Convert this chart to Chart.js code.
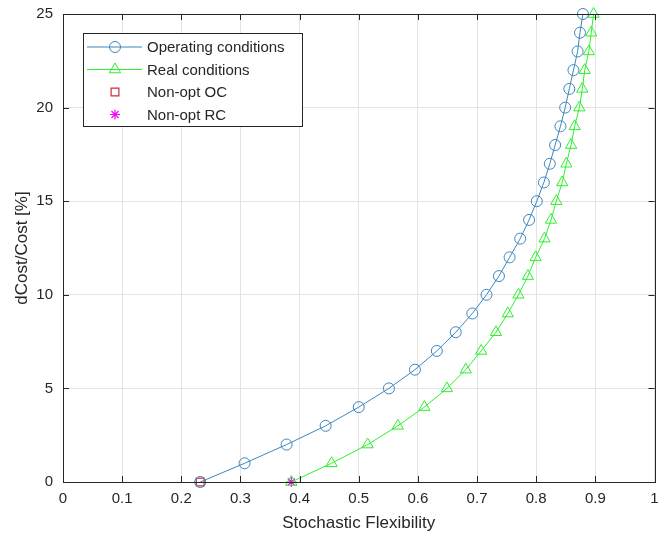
<!DOCTYPE html>
<html>
<head>
<meta charset="utf-8">
<script src="https://cdn.jsdelivr.net/npm/chart.js@4"></script>
<style>
  html, body { margin: 0; padding: 0; background: #fff; }
  #wrap { width: 662px; height: 543px; }
</style>
</head>
<body>
<div id="wrap"><canvas id="chart"></canvas></div>
<script>
// values
const costLevels = [0, 1, 2, 3, 4, 5, 6, 7, 8, 9, 10, 11, 12, 13, 14, 15, 16, 17, 18, 19, 20, 21, 22, 23, 24, 25];
const flexOperating = [0.232, 0.307, 0.378, 0.444, 0.500, 0.551, 0.595, 0.632, 0.664, 0.692, 0.716, 0.737, 0.755,
  0.773, 0.788, 0.801, 0.813, 0.823, 0.832, 0.841, 0.849, 0.856, 0.863, 0.870, 0.874, 0.879];
const flexReal = [0.386, 0.454, 0.515, 0.566, 0.611, 0.649, 0.681, 0.707, 0.732, 0.752, 0.770, 0.786, 0.799,
  0.814, 0.825, 0.834, 0.844, 0.851, 0.859, 0.865, 0.873, 0.878, 0.882, 0.889, 0.893, 0.897];
const nonOptOC = [0.232, 0];
const nonOptRC = [0.386, 0];
const xTicks = [0, 0.1, 0.2, 0.3, 0.4, 0.5, 0.6, 0.7, 0.8, 0.9, 1];
const yTicks = [0, 5, 10, 15, 20, 25];

const FONT = 'Liberation Sans, Arial, Helvetica, sans-serif';
const blue = '#3d86bd';
const green = '#2cf02c';

function toPoints(xs, ys) {
  return xs.map((x, i) => ({ x: x, y: ys[i] }));
}

// MATLAB-like box, inward ticks and legend inside the axes
const matlabAxes = {
  id: 'matlabAxes',
  afterDatasetsDraw(chart) {
    const ctx = chart.ctx;
    const a = chart.chartArea;
    const sx = chart.scales.x, sy = chart.scales.y;
    ctx.save();
    ctx.strokeStyle = '#262626';
    ctx.lineWidth = 1;
    ctx.beginPath();
    xTicks.forEach(v => {
      const px = Math.round(sx.getPixelForValue(v)) + 0.5;
      ctx.moveTo(px, a.bottom); ctx.lineTo(px, a.bottom - 6);
      ctx.moveTo(px, a.top); ctx.lineTo(px, a.top + 6);
    });
    yTicks.forEach(v => {
      const py = Math.round(sy.getPixelForValue(v)) + 0.5;
      ctx.moveTo(a.left, py); ctx.lineTo(a.left + 6, py);
      ctx.moveTo(a.right, py); ctx.lineTo(a.right - 6, py);
    });
    ctx.stroke();
    ctx.strokeRect(Math.round(a.left) + 0.5, Math.round(a.top) + 0.5,
      Math.round(a.right - a.left), Math.round(a.bottom - a.top));

    // legend
    const lx = 83.5, ly = 33.5, lw = 219, lh = 93;
    ctx.fillStyle = '#fff';
    ctx.fillRect(lx, ly, lw, lh);
    ctx.strokeStyle = '#262626';
    ctx.strokeRect(lx, ly, lw, lh);
    const rows = [47, 69.5, 92, 114.5];
    ctx.font = '15px ' + FONT;
    ctx.textBaseline = 'middle';
    chart.data.datasets.forEach((ds, i) => {
      const y = rows[i];
      if (ds.showLine) {
        ctx.strokeStyle = ds.borderColor;
        ctx.lineWidth = 1;
        ctx.beginPath();
        ctx.moveTo(87, y); ctx.lineTo(142, y);
        ctx.stroke();
      }
      ctx.strokeStyle = ds.pointBorderColor;
      ctx.fillStyle = 'rgba(0,0,0,0)';
      ctx.lineWidth = ds.pointBorderWidth;
      Chart.helpers.drawPoint(ctx, {
        pointStyle: ds.pointStyle, radius: ds.pointRadius, borderWidth: ds.pointBorderWidth, rotation: 0
      }, 115, y);
      ctx.fillStyle = '#262626';
      ctx.fillText(ds.label, 147, y + 1);
    });
    ctx.restore();
  }
};

new Chart(document.getElementById('chart'), {
  type: 'scatter',
  data: {
    datasets: [
      {
        label: 'Operating conditions',
        data: toPoints(flexOperating, costLevels),
        showLine: true,
        borderColor: blue,
        borderWidth: 1,
        pointStyle: 'circle',
        pointRadius: 5.5,
        pointBorderColor: blue,
        pointBackgroundColor: 'rgba(0,0,0,0)',
        pointBorderWidth: 1,
        clip: false
      },
      {
        label: 'Real conditions',
        data: toPoints(flexReal, costLevels),
        showLine: true,
        borderColor: green,
        borderWidth: 1,
        pointStyle: 'triangle',
        pointRadius: 6.5,
        pointBorderColor: green,
        pointBackgroundColor: 'rgba(0,0,0,0)',
        pointBorderWidth: 1,
        clip: false
      },
      {
        label: 'Non-opt OC',
        data: [{ x: nonOptOC[0], y: nonOptOC[1] }],
        showLine: false,
        pointStyle: 'rect',
        pointRadius: 5.5,
        pointBorderColor: '#d12a3c',
        pointBackgroundColor: 'rgba(0,0,0,0)',
        pointBorderWidth: 1.2,
        clip: false
      },
      {
        label: 'Non-opt RC',
        data: [{ x: nonOptRC[0], y: nonOptRC[1] }],
        showLine: false,
        pointStyle: 'star',
        pointRadius: 5,
        pointBorderColor: '#ff00ff',
        pointBackgroundColor: 'rgba(0,0,0,0)',
        pointBorderWidth: 1.2,
        clip: false
      }
    ]
  },
  options: {
    responsive: true,
    maintainAspectRatio: false,
    animation: false,
    layout: { padding: { top: 14, right: 5, left: 12, bottom: 9 } },
    plugins: {
      legend: { display: false },
      tooltip: { enabled: false }
    },
    scales: {
      x: {
        type: 'linear',
        min: 0,
        max: 1,
        afterBuildTicks: s => { s.ticks = xTicks.map(v => ({ value: v })); },
        afterFit: s => { s.height = 52; s.paddingLeft = 0; s.paddingRight = 0; },
        grid: { color: '#e3e3e3', drawTicks: false, lineWidth: 1 },
        border: { display: false },
        ticks: {
          color: '#262626',
          font: { family: FONT, size: 15 },
          padding: 8,
          maxRotation: 0,
          callback: v => String(v)
        },
        title: {
          display: true,
          text: 'Stochastic Flexibility',
          color: '#262626',
          font: { family: FONT, size: 17 },
          padding: { top: 2, bottom: 0 }
        }
      },
      y: {
        type: 'linear',
        min: 0,
        max: 25,
        afterBuildTicks: s => { s.ticks = yTicks.map(v => ({ value: v })); },
        afterFit: s => { s.width = 51; s.paddingTop = 0; s.paddingBottom = 0; },
        grid: { color: '#e3e3e3', drawTicks: false, lineWidth: 1 },
        border: { display: false },
        ticks: {
          color: '#262626',
          font: { family: FONT, size: 15 },
          padding: 10
        },
        title: {
          display: true,
          text: 'dCost/Cost [%]',
          color: '#262626',
          font: { family: FONT, size: 17 },
          padding: { top: 0, bottom: 4 }
        }
      }
    }
  },
  plugins: [matlabAxes]
});
</script>
</body>
</html>
